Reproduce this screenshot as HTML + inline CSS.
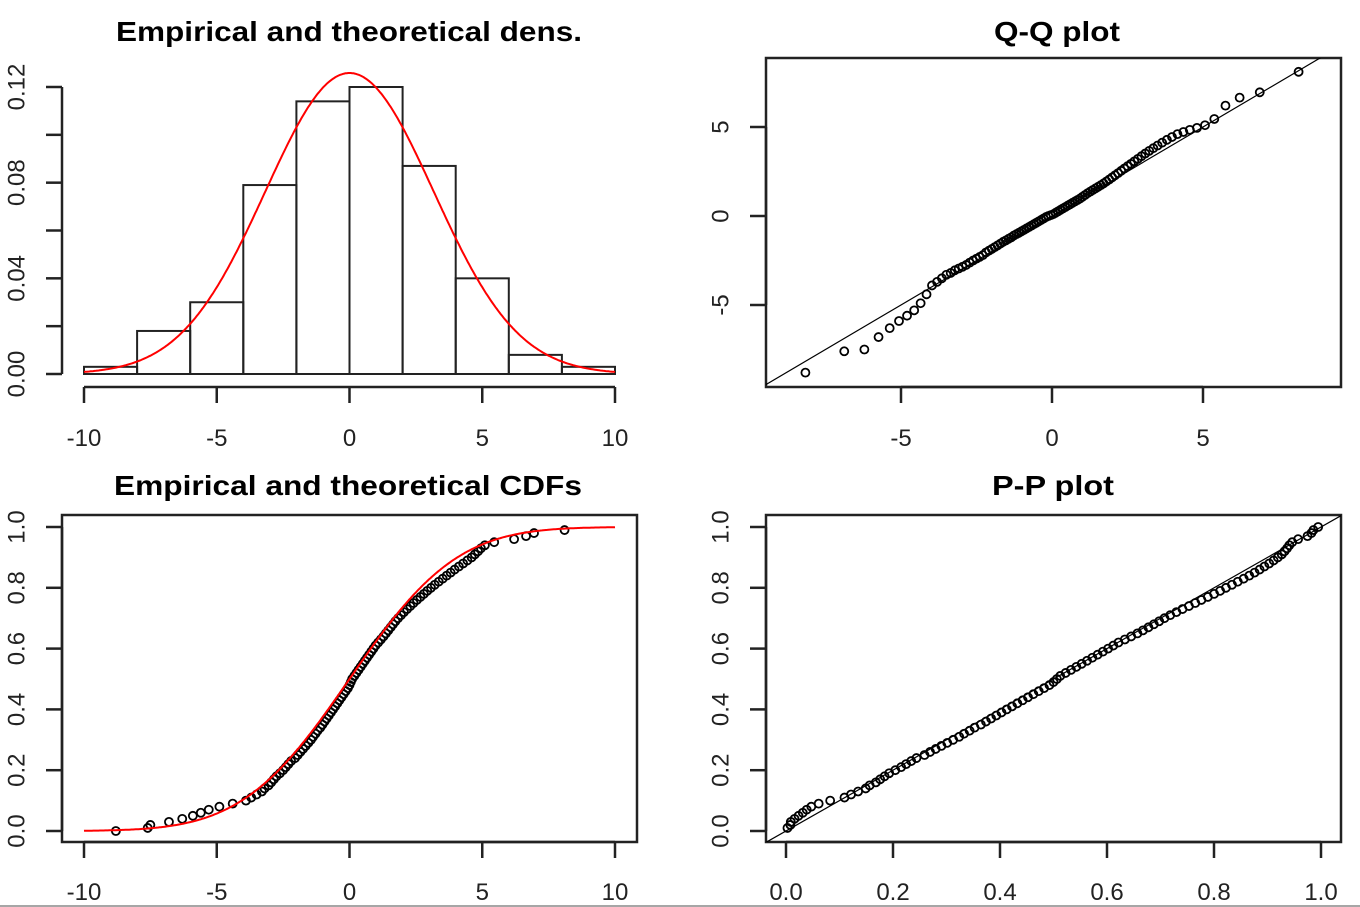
<!DOCTYPE html>
<html><head><meta charset="utf-8"><style>
html,body{margin:0;padding:0;background:#fff;width:1360px;height:907px;overflow:hidden}
svg{display:block;font-family:"Liberation Sans",Arial,sans-serif}
</style></head><body>
<svg id="c" width="1360" height="907" viewBox="0 0 1360 907" xmlns="http://www.w3.org/2000/svg"></svg>
<script>
// ---- data ----
const histBreaks = [-10,-8,-6,-4,-2,0,2,4,6,8,10];
const histDensity = [0.003,0.018,0.030,0.079,0.114,0.120,0.087,0.040,0.008,0.003];
const fitMean = 0.0;
const fitSd = 3.17;
const sample = [-8.8,-7.6,-7.5,-6.8,-6.3,-5.9,-5.6,-5.3,-4.9,-4.4,-3.9,-3.7,-3.5,-3.3,-3.2,-3.05,-2.95,-2.85,-2.75,-2.62,-2.5,-2.4,-2.3,-2.2,-2.05,-1.95,-1.85,-1.75,-1.65,-1.55,-1.45,-1.37,-1.28,-1.2,-1.1,-1.02,-0.94,-0.86,-0.78,-0.7,-0.62,-0.54,-0.46,-0.38,-0.3,-0.22,-0.14,-0.06,0.0,0.05,
 0.1,0.18,0.26,0.34,0.42,0.5,0.58,0.66,0.74,0.82,0.9,0.98,1.08,1.18,1.28,1.37,1.46,1.55,1.64,1.73,1.83,1.94,2.05,2.17,2.29,2.41,2.54,2.67,2.8,2.93,3.07,3.21,3.36,3.51,3.66,3.81,3.96,4.12,4.28,4.44,4.6,4.72,4.84,4.95,5.1,5.45,6.2,6.65,6.95,8.1];
const histXTicks = [-10,-5,0,5,10];
const histYTicks = [0,0.02,0.04,0.06,0.08,0.10,0.12];
const histYLabels = ["0.00","","0.04","","0.08","","0.12"];
const qqTicks = [-5,0,5];
const cdfXTicks = [-10,-5,0,5,10];
const unitTicks = [0,0.2,0.4,0.6,0.8,1.0];
const unitLabels = ["0.0","0.2","0.4","0.6","0.8","1.0"];

// ---- helpers ----
const svg = document.getElementById('c');
const NS = 'http://www.w3.org/2000/svg';
function mk(tag, attrs, parent){ const e=document.createElementNS(NS,tag); for(const k in attrs) e.setAttribute(k,attrs[k]); (parent||svg).appendChild(e); return e; }
function lin(d0,d1,r0,r1){ return v=>r0+(v-d0)*(r1-r0)/(d1-d0); }
function erf(x){const s=Math.sign(x);x=Math.abs(x);const t=1/(1+0.3275911*x);const y=1-((((1.061405429*t-1.453152027)*t+1.421413741)*t-0.284496736)*t+0.254829592)*t*Math.exp(-x*x);return s*y;}
function pnorm(x){return 0.5*(1+erf((x-fitMean)/(fitSd*Math.SQRT2)));}
function dnorm(x){const z=(x-fitMean)/fitSd;return Math.exp(-z*z/2)/(fitSd*Math.sqrt(2*Math.PI));}
function qnormStd(p){const a=[-39.69683028665376,220.9460984245205,-275.9285104469687,138.357751867269,-30.66479806614716,2.506628277459239],b=[-54.47609879822406,161.5858368580409,-155.6989798598866,66.80131188771972,-13.28068155288572],c=[-0.007784894002430293,-0.3223964580411365,-2.400758277161838,-2.549732539343734,4.374664141464968,2.938163982698783],d=[0.007784695709041462,0.3224671290700398,2.445134137142996,3.754408661907416];const pl=0.02425;let q,r;if(p<pl){q=Math.sqrt(-2*Math.log(p));return(((((c[0]*q+c[1])*q+c[2])*q+c[3])*q+c[4])*q+c[5])/((((d[0]*q+d[1])*q+d[2])*q+d[3])*q+1);}if(p>1-pl){q=Math.sqrt(-2*Math.log(1-p));return-(((((c[0]*q+c[1])*q+c[2])*q+c[3])*q+c[4])*q+c[5])/((((d[0]*q+d[1])*q+d[2])*q+d[3])*q+1);}q=p-0.5;r=q*q;return(((((a[0]*r+a[1])*r+a[2])*r+a[3])*r+a[4])*r+a[5])*q/(((((b[0]*r+b[1])*r+b[2])*r+b[3])*r+b[4])*r+1);}
function title(txt,x,y,len,name){const t=mk('text',{x:x,y:y,'text-anchor':'middle','font-size':28,'font-weight':'bold',fill:'#000',textLength:len,lengthAdjust:'spacingAndGlyphs'});t.textContent=txt;}
function xAxis(g,ticks,labels,sx,y,ly,name){const ax=mk('g',{},g);
 mk('line',{x1:sx(ticks[0]),x2:sx(ticks[ticks.length-1]),y1:y,y2:y,stroke:'#222','stroke-width':2.5},ax);
 ticks.forEach((v,i)=>{mk('line',{x1:sx(v),x2:sx(v),y1:y,y2:y+16,stroke:'#222','stroke-width':2.5},ax);const t=mk('text',{x:sx(v),y:ly,'text-anchor':'middle','font-size':24,fill:'#222'},ax);t.textContent=labels[i];});}
function yAxis(g,ticks,labels,sy,x,lx,name){const ax=mk('g',{},g);
 mk('line',{x1:x,x2:x,y1:sy(ticks[0]),y2:sy(ticks[ticks.length-1]),stroke:'#222','stroke-width':2.5},ax);
 ticks.forEach((v,i)=>{mk('line',{x1:x,x2:x-16,y1:sy(v),y2:sy(v),stroke:'#222','stroke-width':2.5},ax);if(labels[i]){const t=mk('text',{x:lx,y:sy(v),'text-anchor':'middle','font-size':24,fill:'#222',transform:`rotate(-90 ${lx} ${sy(v)})`,dy:'0.35em'},ax);t.textContent=labels[i];}});}
function box(g,x0,y0,x1,y1){const r=mk('rect',{x:x0,y:y0,width:x1-x0,height:y1-y0,fill:'none',stroke:'#222','stroke-width':2.5},g);}
function pt(g,x,y){const c=mk('circle',{cx:x,cy:y,r:4,fill:'none',stroke:'#000','stroke-width':1.8},g);}
const n = sample.length;

// ---- Panel 1: histogram + density ----
{
 const g=mk('g',{});
 const sx=lin(-10,10,84,615), sy=lin(0,0.12,374,87);
 title('Empirical and theoretical dens.',349,41,466,'density-title');
 histDensity.forEach((d,i)=>{const x0=sx(histBreaks[i]),x1=sx(histBreaks[i+1]);const r=mk('rect',{x:x0,y:sy(d),width:x1-x0,height:sy(0)-sy(d),fill:'none',stroke:'#222','stroke-width':2},g);});
 let p='';for(let i=0;i<=400;i++){const x=-10+20*i/400;p+=(i?'L':'M')+sx(x).toFixed(1)+' '+sy(dnorm(x)).toFixed(1);}
 const c=mk('path',{d:p,fill:'none',stroke:'#f00','stroke-width':2},g);
 xAxis(g,histXTicks,histXTicks.map(String),sx,387,446,'density-x-axis');
 yAxis(g,histYTicks,histYLabels,sy,62,16,'density-y-axis');
}
// ---- Panel 2: QQ ----
{
 const g=mk('g',{});
 const sx=lin(0,5,1052,1203), sy=lin(0,5,216,127);
 title('Q-Q plot',1057,41,126,'qq-title');
 box(g,766,58,1341,387);
 const cl=mk('clipPath',{id:'qqc'},g);mk('rect',{x:766,y:58,width:575,height:329},cl);
 const l=mk('line',{x1:sx(-12),y1:sy(-12),x2:sx(12),y2:sy(12),stroke:'#000','stroke-width':1.2,'clip-path':'url(#qqc)'},g);
 sample.forEach((v,i)=>{const th=fitMean+fitSd*qnormStd((i+0.5)/n);pt(g,sx(th),sy(v));});
 xAxis(g,qqTicks,qqTicks.map(String),sx,387,446,'qq-x-axis');
 yAxis(g,qqTicks,qqTicks.map(String),sy,766,720,'qq-y-axis');
}
// ---- Panel 3: CDF ----
{
 const g=mk('g',{});
 const sx=lin(-10,10,84,615), sy=lin(0,1,831,527);
 title('Empirical and theoretical CDFs',348,495,468,'cdf-title');
 box(g,62,515,637,842);
 sample.forEach((v,i)=>pt(g,sx(v),sy(i/n)));
 let p='';for(let i=0;i<=400;i++){const x=-10+20*i/400;p+=(i?'L':'M')+sx(x).toFixed(1)+' '+sy(pnorm(x)).toFixed(1);}
 const c=mk('path',{d:p,fill:'none',stroke:'#f00','stroke-width':2},g);
 xAxis(g,cdfXTicks,cdfXTicks.map(String),sx,842,900,'cdf-x-axis');
 yAxis(g,unitTicks,unitLabels,sy,62,16,'cdf-y-axis');
}
// ---- Panel 4: PP ----
{
 const g=mk('g',{});
 const sx=lin(0,1,786,1321), sy=lin(0,1,831,527);
 title('P-P plot',1053,495,122,'pp-title');
 box(g,766,515,1341,842);
 const cl=mk('clipPath',{id:'ppc'},g);mk('rect',{x:766,y:515,width:575,height:327},cl);
 const l=mk('line',{x1:sx(-0.2),y1:sy(-0.2),x2:sx(1.2),y2:sy(1.2),stroke:'#000','stroke-width':1.2,'clip-path':'url(#ppc)'},g);
 sample.forEach((v,i)=>pt(g,sx(pnorm(v)),sy((i+1)/n)));
 xAxis(g,unitTicks,unitLabels,sx,842,900,'pp-x-axis');
 yAxis(g,unitTicks,unitLabels,sy,766,720,'pp-y-axis');
}
const bl=mk('line',{x1:0,x2:1360,y1:906,y2:906,stroke:'#888','stroke-width':1.5});


</script>
</body></html>
